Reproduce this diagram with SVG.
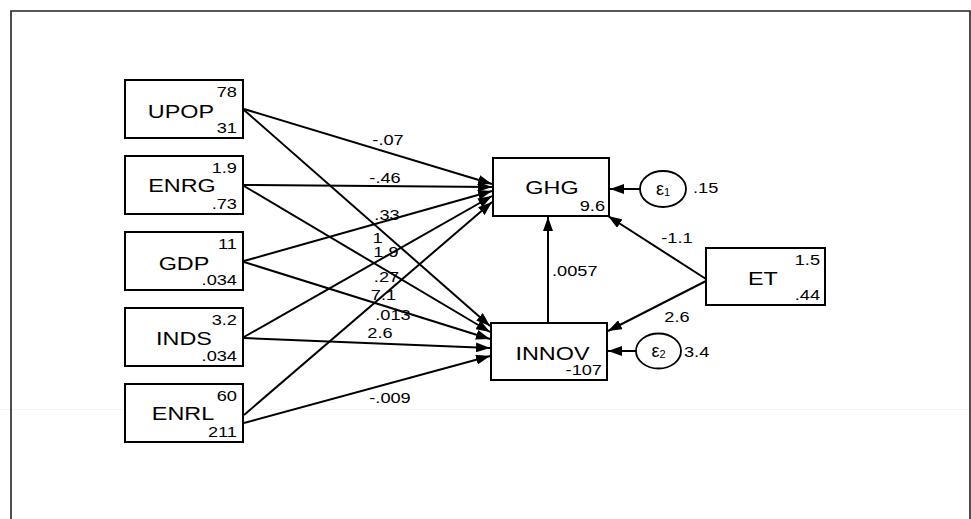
<svg xmlns="http://www.w3.org/2000/svg" width="971" height="519" viewBox="0 0 971 519">
<defs>
<marker id="ah" viewBox="0 0 14 10" refX="14" refY="5" markerWidth="14" markerHeight="10" markerUnits="userSpaceOnUse" orient="auto">
<path d="M0,0 L14,5 L0,10 z" fill="#000"/>
</marker>
<style>
text { font-family: "Liberation Sans", Arial, sans-serif; fill: #000; }
.lab { font-size: 18px; text-anchor: middle; transform-box: fill-box; transform-origin: 50% 50%; transform: scaleX(1.3); }
.ne { font-size: 14px; text-anchor: end; transform-box: fill-box; transform-origin: 100% 50%; transform: scaleX(1.3); }
.nm { font-size: 14px; text-anchor: middle; transform-box: fill-box; transform-origin: 50% 50%; transform: scaleX(1.3); }
.ns { font-size: 14px; text-anchor: start; transform-box: fill-box; transform-origin: 0% 50%; transform: scaleX(1.3); }
.eps { font-size: 18px; text-anchor: middle; }
.box { fill: #fff; stroke: #000; stroke-width: 2; }
.err { fill: #fff; stroke: #000; stroke-width: 1.8; }
.con line { stroke: #000; stroke-width: 2; marker-end: url(#ah); }
</style>
</defs>
<rect x="0" y="0" width="971" height="519" fill="#fff"/>
<line x1="0" y1="409.5" x2="971" y2="409.5" stroke="#f3f3f3" stroke-width="1"/>
<path d="M11,519 V11 H970 V519" fill="none" stroke="#222" stroke-width="1.6"/>

<g id="connectors" class="con">
<line x1="244" y1="109" x2="492" y2="184"/>
<line x1="244" y1="110" x2="490" y2="326"/>
<line x1="244" y1="185" x2="492" y2="187"/>
<line x1="244" y1="186" x2="490" y2="332"/>
<line x1="244" y1="261" x2="492" y2="191"/>
<line x1="244" y1="262" x2="490" y2="339"/>
<line x1="244" y1="337" x2="492" y2="196"/>
<line x1="244" y1="338" x2="490" y2="348"/>
<line x1="244" y1="415" x2="492" y2="202"/>
<line x1="244" y1="423" x2="490" y2="356"/>
<line x1="548" y1="323" x2="548" y2="217"/>
<line x1="706" y1="279" x2="608" y2="216"/>
<line x1="706" y1="281" x2="608" y2="331"/>
<line x1="640" y1="189" x2="610" y2="189"/>
<line x1="636" y1="351" x2="608" y2="351"/>
</g>

<g id="labels">
<text class="nm" x="388" y="145">-.07</text>
<text class="nm" x="385" y="183">-.46</text>
<text class="nm" x="387" y="220">.33</text>
<text class="nm" x="377.5" y="243">1</text>
<text class="nm" x="386" y="257">1.9</text>
<text class="nm" x="386.5" y="282">.27</text>
<text class="nm" x="383.5" y="300">7.1</text>
<text class="nm" x="393" y="320">.013</text>
<text class="nm" x="380" y="338">2.6</text>
<text class="nm" x="390" y="403">-.009</text>
<text class="ns" x="552" y="276">.0057</text>
<text class="nm" x="677" y="243">-1.1</text>
<text class="nm" x="677" y="322">2.6</text>
</g>

<g id="UPOP">
<rect class="box" x="125" y="80" width="118" height="58"/>
<text class="lab" x="181" y="118">UPOP</text>
<text class="ne" x="237" y="97">78</text>
<text class="ne" x="237" y="133">31</text>
</g>
<g id="ENRG">
<rect class="box" x="125" y="156" width="118" height="58"/>
<text class="lab" x="182" y="192">ENRG</text>
<text class="ne" x="237" y="173">1.9</text>
<text class="ne" x="237" y="209">.73</text>
</g>
<g id="GDP">
<rect class="box" x="125" y="232" width="118" height="58"/>
<text class="lab" x="184" y="270">GDP</text>
<text class="ne" x="237" y="249">11</text>
<text class="ne" x="237" y="285">.034</text>
</g>
<g id="INDS">
<rect class="box" x="125" y="308" width="118" height="58"/>
<text class="lab" x="184" y="345">INDS</text>
<text class="ne" x="237" y="325">3.2</text>
<text class="ne" x="237" y="361">.034</text>
</g>
<g id="ENRL">
<rect class="box" x="125" y="384" width="118" height="58"/>
<text class="lab" x="183" y="420">ENRL</text>
<text class="ne" x="237" y="401">60</text>
<text class="ne" x="237" y="437">211</text>
</g>
<g id="GHG">
<rect class="box" x="493" y="158" width="116" height="58"/>
<text class="lab" x="552" y="194">GHG</text>
<text class="ne" x="605" y="211">9.6</text>
</g>
<g id="INNOV">
<rect class="box" x="491" y="323" width="116" height="57"/>
<text class="lab" x="552.5" y="360">INNOV</text>
<text class="ne" x="602" y="375">-107</text>
</g>
<g id="ET">
<rect class="box" x="706" y="248" width="119" height="57"/>
<text class="lab" x="763" y="285">ET</text>
<text class="ne" x="820" y="265">1.5</text>
<text class="ne" x="820" y="300">.44</text>
</g>
<g id="e1">
<ellipse class="err" cx="663" cy="189" rx="23" ry="18"/>
<text class="eps" x="663" y="195">ε<tspan font-size="11" dy="1">1</tspan></text>
<text class="ns" x="693" y="193">.15</text>
</g>
<g id="e2">
<ellipse class="err" cx="658.5" cy="351" rx="22.5" ry="17.5"/>
<text class="eps" x="658.5" y="357">ε<tspan font-size="11" dy="1">2</tspan></text>
<text class="ns" x="684" y="357">3.4</text>
</g>
</svg>
